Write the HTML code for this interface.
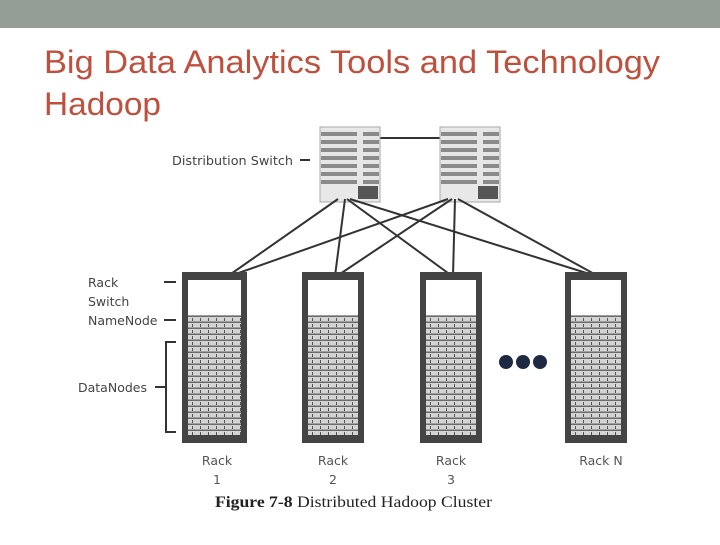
<!DOCTYPE html>
<html><head><style>
body{margin:0;width:720px;height:540px;overflow:hidden;background:#fff;}
</style></head><body>
<svg width="720" height="540" xmlns="http://www.w3.org/2000/svg">
<defs>
<pattern id="srv" x="0" y="315" width="8" height="6" patternUnits="userSpaceOnUse">
<rect width="8" height="6" fill="#d4d4d4"/>
<rect y="4.5" width="8" height="1.5" fill="#6a6a6a"/>
<rect x="2" y="1" width="1" height="3" fill="#555"/>
</pattern>
<pattern id="sw" x="0" y="130" width="60" height="8" patternUnits="userSpaceOnUse">
<rect width="60" height="8" fill="#e6e6e6"/>
<rect x="3" y="2" width="54" height="4" fill="#8a8a8a"/>
</pattern>
</defs>
<rect x="0" y="0" width="720" height="28" fill="#949e96"/>
<text x="44" y="73" font-family="Liberation Sans, sans-serif" font-size="32" fill="#c0503e" textLength="616" lengthAdjust="spacingAndGlyphs">Big Data Analytics Tools and Technology</text>
<text x="44" y="115" font-family="Liberation Sans, sans-serif" font-size="32" fill="#c0503e" textLength="117" lengthAdjust="spacingAndGlyphs">Hadoop</text>

<line x1="380" y1="138" x2="440" y2="138" stroke="#333" stroke-width="2"/>
<g>
<rect x="320" y="127" width="60" height="75" fill="#e8e8e8" stroke="#aaa"/>
<rect x="321" y="130" width="58" height="54" fill="url(#sw)"/>
<rect x="358" y="186" width="20" height="13" fill="#555"/>
<rect x="440" y="127" width="60" height="75" fill="#e8e8e8" stroke="#aaa"/>
<rect x="441" y="130" width="58" height="54" fill="url(#sw)"/>
<rect x="478" y="186" width="20" height="13" fill="#555"/>
</g>
<g stroke="#333" stroke-width="2">
<line x1="338" y1="199" x2="228" y2="276"/>
<line x1="345" y1="199" x2="335" y2="276"/>
<line x1="347" y1="199" x2="452" y2="276"/>
<line x1="350" y1="199" x2="596" y2="276"/>
<line x1="448" y1="199" x2="230" y2="276"/>
<line x1="452" y1="199" x2="337" y2="276"/>
<line x1="455" y1="199" x2="453" y2="276"/>
<line x1="458" y1="199" x2="598" y2="276"/>
</g>
<text x="172" y="165" font-family="DejaVu Sans, sans-serif" font-size="12.5" fill="#444" textLength="121" lengthAdjust="spacingAndGlyphs">Distribution Switch</text>
<line x1="300" y1="160" x2="310" y2="160" stroke="#333" stroke-width="2"/>

<g>
<g transform="translate(182,272)">
<rect width="65" height="171" fill="#444"/><rect x="6" y="8" width="53" height="35" fill="#fff"/><rect x="6" y="43" width="53" height="120" fill="url(#srv)"/></g>
<g transform="translate(302,272)">
<rect width="62" height="171" fill="#444"/><rect x="6" y="8" width="50" height="35" fill="#fff"/><rect x="6" y="43" width="50" height="120" fill="url(#srv)"/></g>
<g transform="translate(420,272)">
<rect width="62" height="171" fill="#444"/><rect x="6" y="8" width="50" height="35" fill="#fff"/><rect x="6" y="43" width="50" height="120" fill="url(#srv)"/></g>
<g transform="translate(565,272)">
<rect width="62" height="171" fill="#444"/><rect x="6" y="8" width="50" height="35" fill="#fff"/><rect x="6" y="43" width="50" height="120" fill="url(#srv)"/></g>
</g>
<g fill="#1e2a44"><circle cx="506" cy="362" r="7"/><circle cx="523" cy="362" r="7"/><circle cx="540" cy="362" r="7"/></g>

<g font-family="DejaVu Sans, sans-serif" font-size="12.5" fill="#444">
<text x="88" y="287">Rack</text>
<text x="88" y="306">Switch</text>
<text x="88" y="325">NameNode</text>
<text x="78" y="392">DataNodes</text>
</g>
<g stroke="#333" stroke-width="2" fill="none">
<line x1="164" y1="282" x2="176" y2="282"/>
<line x1="164" y1="320" x2="176" y2="320"/>
<path d="M176 342 H166 V432 H176"/>
<line x1="155" y1="387" x2="166" y2="387"/>
</g>
<g font-family="DejaVu Sans, sans-serif" font-size="12.5" fill="#555" text-anchor="middle">
<text x="217" y="465">Rack</text><text x="217" y="484">1</text>
<text x="333" y="465">Rack</text><text x="333" y="484">2</text>
<text x="451" y="465">Rack</text><text x="451" y="484">3</text>
<text x="601" y="465">Rack N</text>
</g>
<text x="215" y="507" font-family="Liberation Serif, serif" font-size="16" fill="#222" textLength="277" lengthAdjust="spacingAndGlyphs"><tspan font-weight="bold">Figure 7-8</tspan> Distributed Hadoop Cluster</text>
</svg>
</body></html>
